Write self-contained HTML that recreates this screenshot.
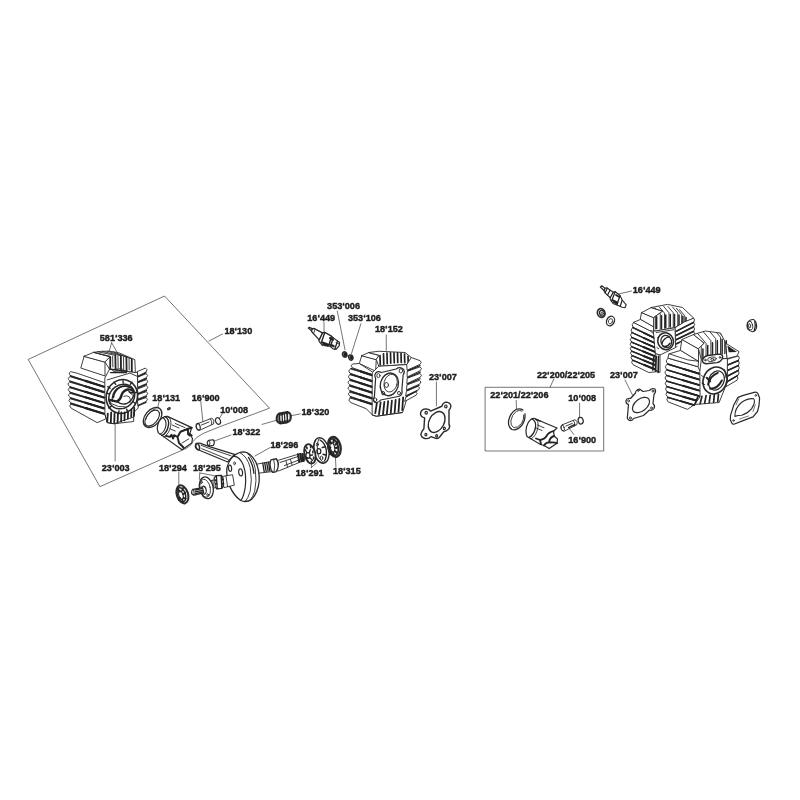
<!DOCTYPE html>
<html><head><meta charset="utf-8"><title>Parts diagram</title>
<style>
html,body{margin:0;padding:0;background:#fff;}
svg{display:block;}
text{font-family:"Liberation Sans",sans-serif;font-weight:bold;font-size:9.1px;fill:#1c1c1c;stroke:#1c1c1c;stroke-width:0.4;}
.l{stroke:#2a2a2a;stroke-width:0.9;fill:none;stroke-linecap:round;stroke-linejoin:round;}
.w{stroke:#2a2a2a;stroke-width:0.9;fill:#fff;stroke-linecap:round;stroke-linejoin:round;}
.k{stroke:#222;stroke-width:1.35;fill:none;stroke-linecap:round;stroke-linejoin:round;}
.d{fill:#222;stroke:none;}
.t{stroke:#3a3a3a;stroke-width:0.7;fill:none;stroke-linecap:round;}
g *{vector-effect:non-scaling-stroke;}
</style></head><body>
<svg width="800" height="800" viewBox="0 0 800 800">
<defs><filter id="bl" x="-5%" y="-5%" width="110%" height="110%"><feGaussianBlur stdDeviation="0.45"/></filter></defs>
<rect width="800" height="800" fill="#fff"/>
<g filter="url(#bl)">
<!-- 00_labels.svg -->
<!-- boxes and leader lines -->
<path class="t" d="M28.5,359.3 L164.5,296 L269.5,408.2 L219.5,426.8 L203,433.5 Q196,437 193,441.5 Q191,446 187,448 L100.25,486.5 Z"/>
<path class="t" d="M209,341 L222.5,334"/>
<rect class="t" x="485.5" y="387.3" width="118.2" height="63.7"/>
<text x="99.8" y="340.5">581‘336</text>
<text x="224.4" y="334.2">18‘130</text>
<text x="152.3" y="400.5">18‘131</text>
<text x="191.8" y="400.5">16‘900</text>
<text x="220.2" y="413.3">10‘008</text>
<text x="232.5" y="434.6">18‘322</text>
<text x="101.8" y="471.1">23‘003</text>
<text x="159" y="470.6">18‘294</text>
<text x="193" y="470.6">18‘295</text>
<text x="301.5" y="414.9">18‘320</text>
<text x="270.5" y="447.9">18‘296</text>
<text x="295.8" y="476.3">18‘291</text>
<text x="332.9" y="473.5">18‘315</text>
<text x="327.1" y="309.1">353‘006</text>
<text x="307.3" y="320.8">16‘449</text>
<text x="348" y="320.8">353‘106</text>
<text x="375" y="332.1">18‘152</text>
<text x="429" y="379.6">23‘007</text>
<text x="537" y="377.5">22‘200/22‘205</text>
<text x="610" y="377.8">23‘007</text>
<text x="490.3" y="397.8">22‘201/22‘206</text>
<text x="568.3" y="400.6">10‘008</text>
<text x="568.3" y="442.9">16‘900</text>
<text x="632.8" y="293.4">16‘449</text>

<!-- 10_cyl_left.svg -->
<g transform="translate(60,345) scale(0.1125)">
<!-- leader lines -->
<path class="t" d="M459,-20 L436,60 M459,-20 L505,60"/>
<path class="t" d="M490,690 L490,1030"/>
<!-- silhouette fill -->
<path class="w" d="M215,100 L300,65 L440,55 L560,75 L665,130 L670,190 L770,215 L775,545 L660,600 L655,680 L480,700 L330,690 L100,575 L75,250 L185,205 Z" style="stroke:none"/>
<!-- left fins -->
<path class="w" d="M395,335 L150,250 L95,237 Q70,245 90,270 L395,370"/>
<path class="w" d="M395,372 L90,282 Q60,295 85,318 L395,418"/>
<path class="w" d="M395,420 L85,330 Q58,345 85,368 L395,466"/>
<path class="w" d="M395,468 L85,380 Q60,395 88,418 L395,514"/>
<path class="w" d="M395,516 L88,430 Q62,445 90,466 L395,562"/>
<path class="w" d="M395,564 L90,478 Q66,492 95,514 L395,610"/>
<path class="w" d="M395,612 L95,526 Q75,540 100,562 L330,690 L400,660"/>
<path class="k" d="M92,276 L390,371 M88,324 L390,419 M88,374 L390,467 M90,424 L390,515 M92,472 L390,563 M96,520 L390,611"/>
<path class="k" style="stroke-width:2.2" d="M226,319 L390,371 M224,367 L390,419 M224,416 L390,467 M225,465 L390,515 M226,513 L390,563 M228,561 L390,611"/>
<!-- block -->
<path class="w" d="M215,100 L400,150 L400,275 L185,205 Q200,150 215,100 Z"/>
<path class="w" d="M215,100 L300,65 L445,105 L400,150 Z"/>
<!-- top fins -->
<path class="w" d="M300,65 L370,56 L440,55 L520,68 L665,130 L670,245 L440,215 L400,150 L445,105 Z"/>
<path class="l" d="M300,65 L445,102 M335,60 L490,92 M375,57 L540,95 M425,56 L590,106 M475,62 L640,125"/>
<path class="k" style="stroke-width:1.8" d="M447,108 L446,210 M492,96 L494,205 M541,100 L542,215 M590,110 L592,225 M638,130 L638,240"/>
<path class="l" d="M468,100 L470,195 M515,98 L517,200 M565,104 L566,210 M614,118 L615,222"/>
<!-- front face -->
<path class="w" d="M400,290 L440,215 L670,245 L690,240 L695,560 L655,600 L655,680 L480,700 L420,690 L400,620 Z"/>
<path class="l" d="M420,310 L620,250 L690,280"/>
<path class="k" d="M445,215 L600,235 M450,245 L590,245"/>
<ellipse class="l" cx="520" cy="225" rx="55" ry="14"/>
<!-- right fins -->
<path class="w" d="M690,235 L760,205 Q785,215 765,240 L695,275 Z"/>
<path class="w" d="M692,285 L765,255 Q790,268 768,290 L695,325 Z"/>
<path class="w" d="M692,335 L768,308 Q792,320 770,342 L695,375 Z"/>
<path class="w" d="M692,390 L768,360 Q792,375 770,395 L695,430 Z"/>
<path class="w" d="M692,440 L768,415 Q790,428 770,448 L695,480 Z"/>
<path class="w" d="M692,492 L765,468 Q788,480 768,500 L695,535 Z"/>
<path class="k" d="M695,280 L765,248 M695,330 L768,298 M695,382 L768,350 M695,435 L768,405 M695,486 L768,458 M695,540 L765,510"/>
<!-- bore ring (outer) -->
<ellipse class="w" style="stroke-width:1.6" cx="550" cy="458" rx="138" ry="152" transform="rotate(20 550 458)"/>
<path class="k" d="M425,370 L445,385 M420,430 L440,435 M432,560 L455,545 M640,330 L625,350 M680,420 L660,425 M670,520 L650,505 M600,590 L592,570 M520,605 L525,585 M480,330 L495,350 M560,318 L562,338"/>
<!-- bottom fins -->
<path class="k" style="stroke-width:1.8" d="M425,610 L420,680 M455,600 L452,690 M485,605 L482,695 M515,610 L512,690 M545,600 L543,680 M575,600 L573,670 M605,590 L603,655 M635,575 L633,640 M660,560 L658,630"/>
<path class="l" d="M400,620 L420,690 L480,700 L655,640"/>
</g>

<!-- bore detail: zoom [100,370,150,420] scale 16 -->
<g transform="translate(100,370) scale(0.0625)">
<ellipse class="w" style="stroke-width:1.5" cx="348" cy="425" rx="218" ry="185" transform="rotate(-35 348 425)"/>
<path class="l" style="stroke-width:1.2" d="M200,500 Q180,380 270,300 Q350,240 450,262 Q530,290 545,380"/>
<path class="k" style="stroke-width:2.4" d="M150,478 L275,505 Q330,470 345,400 Q365,335 440,312 Q490,305 525,335"/>
<path class="k" style="stroke-width:1.6" d="M215,440 Q225,330 320,275 Q400,240 470,275"/>
<path class="k" style="stroke-width:1.3" d="M275,505 Q330,560 420,540 Q510,500 540,400"/>
<path class="l" d="M150,478 Q150,520 200,545 Q290,600 400,590 M440,312 Q470,380 520,400 M380,420 Q430,400 470,430 Q500,470 480,520"/>
<path class="k" style="stroke-width:1.6" d="M470,350 Q500,370 530,365"/>
</g>

<!-- 20_piston_left.svg -->
<g transform="translate(140,380) scale(0.15)">
<!-- ring+piston: zoom [140,395,200,455] scale 13.333 -->
<path class="t" d="M128,142 L118,185"/>
<g transform="translate(0,100) scale(0.5)">
<ellipse class="w" style="stroke-width:1.3" cx="168" cy="300" rx="100" ry="152" transform="rotate(40 168 300)"/>
<ellipse class="w" style="stroke-width:1.1" cx="162" cy="308" rx="72" ry="125" transform="rotate(40 162 308)"/>
<path class="l" d="M75,330 Q100,230 200,185"/>
<ellipse class="l" style="stroke-width:1.2" cx="385" cy="182" rx="20" ry="11" transform="rotate(-30 385 182)"/>
<path class="w" style="stroke-width:1.2" d="M365,285 L690,435 L662,520 L700,580 L690,640 L560,730 L245,505 Q215,440 250,360 Q290,285 365,285 Z"/>
<path class="l" d="M365,285 Q425,310 410,410 Q390,520 320,560"/>
<path class="k" d="M335,290 Q395,320 378,410 Q360,510 290,540"/>
<path class="k" style="stroke-width:1.1" d="M300,300 Q358,330 345,410 Q328,500 265,522"/>
<path class="k" style="stroke-width:1.9" d="M345,545 L400,558 L420,530 L442,580 L455,535 L500,560 L540,490 L640,450 L690,437 M500,560 L520,640 L580,700 M640,450 L640,520 L662,540 M662,520 L690,540"/>
<path class="l" d="M430,400 L520,440 M470,380 L600,435 M400,450 L470,480 M560,640 L650,585"/>
</g>
<!-- pin 16'900 -->
<path class="t" d="M405,142 L420,285"/>
<path class="w" d="M388,290 L478,255 Q498,262 490,293 L398,335 Q372,330 375,308 Q378,292 388,290 Z"/>
<ellipse class="l" style="stroke-width:1.2" cx="388" cy="312" rx="13" ry="23" transform="rotate(-15 388 312)"/>
<path class="l" d="M470,259 Q482,273 478,297"/>
<path class="l" d="M410,300 L460,280"/>
<!-- clip 10'008 -->
<path class="t" d="M548,225 L530,255"/>
<ellipse class="l" style="stroke-width:1.2" cx="520" cy="273" rx="16" ry="23" transform="rotate(-20 520 273)"/>
</g>

<!-- 25_crank_right.svg -->
<g transform="translate(250,395) scale(0.15)">
<!-- leaders -->
<path class="t" d="M335,126 L265,140"/>
<path class="t" d="M80,196 L185,166"/>
<!-- needle bearing 18'320 -->
<path class="w" style="stroke-width:1.8;fill:#777" d="M195,122 L250,112 Q276,122 273,150 Q270,178 246,184 L200,190 Q175,180 177,155 Q179,130 195,122 Z"/>
<path class="k" style="stroke-width:1.8" d="M198,128 L201,186 M214,124 L217,184 M230,120 L233,182 M246,118 L248,178"/>
<path style="stroke:#fff;stroke-width:1.2;fill:none;stroke-linecap:round" d="M206,140 L207,170 M222,136 L224,168 M238,130 L240,165 M258,130 L258,160"/>
<!-- shaft -->
<path class="w" d="M40,462 L190,435 L330,392 L360,395 L365,440 L340,445 L195,505 L50,522 Z"/>
<path class="k" d="M85,455 L95,512 M98,452 L108,510 M111,450 L121,508 M124,448 L132,505"/>
<path class="w" style="stroke-width:1.3" d="M140,432 L175,425 Q192,445 188,475 Q186,500 172,512 L150,515 Q135,495 134,468 Q133,445 140,432 Z"/>
<path class="l" d="M158,428 Q170,470 160,514"/>
<path class="l" d="M200,450 L320,410 M230,470 L330,432 M240,440 L250,480 M270,430 L280,465"/>
<path class="k" style="stroke-width:2" d="M320,395 L328,445 M335,393 L343,442 M350,394 L356,440"/>
</g>
<g transform="translate(290,425) scale(0.075)">
<path class="t" d="M285,568 L285,520 M285,568 L360,500"/>
<path class="t" d="M612,556 L606,432"/>
<!-- cup disc -->
<ellipse class="w" style="stroke-width:1.4" cx="418" cy="340" rx="100" ry="172" transform="rotate(-12 418 340)"/>
<path class="l" style="stroke-width:1.2" d="M345,195 Q300,260 330,400 Q360,500 440,510"/>
<path class="l" d="M385,185 Q350,260 372,390 Q395,480 460,500"/>
<path class="k" d="M400,200 Q470,240 485,340 Q490,430 460,480"/>
<ellipse class="l" style="stroke-width:1.3" cx="385" cy="350" rx="26" ry="34"/>
<ellipse class="l" cx="420" cy="440" rx="18" ry="26"/>
<ellipse class="l" cx="365" cy="260" rx="14" ry="22"/>
<path class="k" d="M430,300 L470,290 M440,390 L475,400"/>
<!-- star disc -->
<ellipse class="w" style="stroke-width:1.8" cx="265" cy="385" rx="72" ry="132" transform="rotate(-14 265 385)"/>
<ellipse class="l" style="stroke-width:1.3" cx="240" cy="405" rx="28" ry="38"/>
<ellipse class="d" cx="225" cy="305" rx="12" ry="22" transform="rotate(-14 225 305)"/>
<ellipse class="d" cx="275" cy="295" rx="11" ry="20" transform="rotate(-14 275 295)"/>
<ellipse class="d" cx="305" cy="360" rx="11" ry="22"/>
<ellipse class="d" cx="315" cy="440" rx="11" ry="22"/>
<ellipse class="d" cx="285" cy="490" rx="11" ry="18"/>
<ellipse class="d" cx="235" cy="480" rx="10" ry="18"/>
<path class="k" d="M205,330 L225,370 M270,330 L258,372 M300,400 L268,405 M300,470 L262,435 M222,450 L235,438"/>
<!-- bearing 18'315 -->
<ellipse class="w" style="stroke-width:2.4" cx="592" cy="292" rx="82" ry="134" transform="rotate(-12 592 292)"/>
<ellipse class="l" style="stroke-width:1.8" cx="580" cy="296" rx="62" ry="112" transform="rotate(-12 580 296)"/>
<ellipse class="l" style="stroke-width:1.2" cx="565" cy="300" rx="30" ry="62" transform="rotate(-12 565 300)"/>
<path class="k" style="stroke-width:2.2" d="M530,215 L548,245 M585,195 L580,232 M630,230 L608,262 M640,300 L612,305 M625,370 L600,350 M580,405 L578,370 M535,385 L548,355 M520,300 L538,300"/>
</g>

<!-- 30_crank.svg -->
<g transform="translate(165,420) scale(0.15)">
<!-- leaders -->
<path class="t" d="M440,100 L330,140"/>
<path class="t" d="M92,347 L92,432"/>
<path class="t" d="M232,353 L229,396 M232,353 L337,373"/>
<path class="t" d="M702,183 L600,240"/>
</g>
<!-- conrod + flywheel: zoom [190,435,280,505] scale 8.889 -->
<g transform="translate(190,435) scale(0.1125)">
<!-- conrod -->
<path class="w" style="stroke-width:1.2" d="M85,72 L180,105 L395,172 L335,240 L180,175 L78,133 Q40,118 48,92 Q58,68 85,72 Z"/>
<ellipse class="l" style="stroke-width:1.5" cx="68" cy="103" rx="15" ry="30" transform="rotate(-18 68 103)"/>
<path class="l" d="M100,92 L180,122 L365,185 M105,122 L180,152 L340,218"/>
<!-- pin 18'322 -->
<path class="w" style="stroke-width:1.2" d="M168,48 L205,42 Q225,62 208,92 L172,98 Q150,85 153,68 Q156,52 168,48 Z"/>
<path class="l" d="M168,48 Q188,68 172,98"/>
<!-- flywheel -->
<path class="w" style="stroke-width:1.3" d="M385,190 Q430,150 480,150 Q540,155 585,240 Q620,320 615,410 Q605,510 550,570 Q500,605 450,582 Q390,540 350,450 Q320,370 328,295 Q345,225 385,190 Z"/>
<path class="l" style="stroke-width:1.2" d="M385,190 Q440,185 475,270 Q505,360 490,470 Q475,560 450,582"/>
<path class="l" d="M445,158 Q510,190 535,290 Q555,400 535,500 Q515,570 490,592"/>
<path class="l" d="M500,153 Q560,200 580,300 Q595,410 575,500 Q560,550 535,580"/>
<path class="k" d="M520,200 Q560,260 568,340"/>
<ellipse class="l" style="stroke-width:1.2" cx="356" cy="296" rx="14" ry="28" transform="rotate(-8 356 296)"/>
<ellipse class="l" cx="396" cy="252" rx="8" ry="13"/>
<ellipse class="l" style="stroke-width:1.2" cx="450" cy="332" rx="17" ry="32" transform="rotate(-8 450 332)"/>
</g>
<!-- left shaft group: zoom [170,455,240,525] scale 11.4286 -->
<g transform="translate(170,455) scale(0.0875)">
<!-- shaft to flywheel -->
<path class="w" d="M600,245 L715,225 L735,345 L620,372 Z"/>
<path class="l" d="M640,240 L658,362"/>
<!-- nut -->
<path class="w" style="stroke-width:1.3" d="M505,262 L530,235 L585,232 L605,262 L612,345 L590,382 L535,388 L512,355 Z"/>
<path class="k" d="M530,237 L540,386 M585,234 L592,380"/>
<path class="k" style="stroke-width:1.8" d="M512,290 L528,288 M515,330 L532,328 M592,280 L606,278 M596,330 L610,326"/>
<!-- shaft section -->
<path class="w" d="M470,292 L510,285 L518,372 L480,385 Z"/>
<path class="l" d="M490,288 L498,380"/>
<!-- washer disc -->
<ellipse class="w" style="stroke-width:1.3" cx="415" cy="375" rx="78" ry="126" transform="rotate(-12 415 375)"/>
<ellipse class="l" cx="402" cy="380" rx="58" ry="104" transform="rotate(-12 402 380)"/>
<ellipse class="l" style="stroke-width:1.2" cx="385" cy="402" rx="28" ry="46" transform="rotate(-12 385 402)"/>
<ellipse class="l" cx="360" cy="312" rx="9" ry="14"/>
<ellipse class="l" cx="430" cy="455" rx="9" ry="14"/>
<!-- stub -->
<path class="w" style="stroke-width:1.2" d="M262,392 L372,372 L385,432 L275,458 Q245,452 247,425 Q250,398 262,392 Z"/>
<path class="l" d="M262,392 Q282,420 275,458"/>
<path class="k" d="M285,400 L365,385 M288,422 L372,404 M290,442 L378,422"/>
<!-- bearing 18'294 -->
<ellipse class="w" style="stroke-width:2" cx="142" cy="450" rx="64" ry="106" transform="rotate(-18 142 450)"/>
<ellipse class="l" style="stroke-width:1.5" cx="130" cy="455" rx="46" ry="84" transform="rotate(-18 130 455)"/>
<ellipse class="l" style="stroke-width:1.2" cx="124" cy="458" rx="24" ry="50" transform="rotate(-18 124 458)"/>
<path class="k" style="stroke-width:1.8" d="M95,395 L112,420 M150,375 L140,405 M175,430 L155,445 M178,500 L155,490 M150,535 L140,508 M100,510 L115,492"/>
</g>

<!-- 50_cyl_mid.svg -->
<g transform="translate(335,335) scale(0.125)">
<!-- leaders -->
<path class="t" d="M410,0 L410,122"/>
<path class="t" d="M18,-192 L80,118 M207,-90 L132,148"/>
<!-- silhouette -->
<path style="fill:#fff;stroke:none" d="M215,165 L270,140 L350,130 L560,140 L610,180 L690,215 L690,350 L650,480 L560,560 L540,620 L330,650 L250,590 L105,540 L105,280 L135,235 L195,225 Z"/>
<!-- left fins -->
<path class="w" d="M305,300 L195,228 L140,232 Q118,245 140,262 L300,320"/>
<path class="w" d="M300,322 L125,272 Q98,285 122,306 L300,368"/>
<path class="w" d="M300,370 L120,318 Q95,332 120,352 L300,414"/>
<path class="w" d="M300,416 L118,364 Q92,378 118,398 L300,460"/>
<path class="w" d="M300,462 L116,410 Q92,425 118,444 L300,506"/>
<path class="w" d="M300,508 L116,458 Q94,472 120,490 L300,552"/>
<path class="w" d="M300,554 L120,504 Q100,520 125,540 L250,590 L300,640"/>
<path class="k" d="M128,267 L296,321 M122,312 L296,369 M120,358 L296,415 M118,404 L296,461 M120,450 L296,507 M122,497 L296,553"/>
<path class="k" style="stroke-width:2.2" d="M204,291 L296,321 M200,338 L296,369 M199,384 L296,415 M198,430 L296,461 M199,476 L296,507 M200,522 L296,553"/>
<!-- block -->
<path class="w" d="M215,165 L330,195 L325,290 L195,228 Q205,190 215,165 Z"/>
<path class="w" d="M215,165 L270,140 L352,165 L330,195 Z"/>
<!-- top fins -->
<path class="w" d="M270,140 L350,130 L560,140 L610,180 L600,235 L350,250 L330,195 L352,165 Z"/>
<path class="k" style="stroke-width:1.7" d="M360,165 L362,240 M388,150 L390,235 M416,145 L418,230 M444,142 L446,225 M472,142 L474,222 M500,143 L502,220 M528,146 L530,220 M556,152 L558,222 M584,170 L586,230"/>
<!-- front face -->
<path class="w" d="M300,300 L350,250 L600,235 L585,470 L560,560 L540,620 L330,650 L300,640 Z"/>
<!-- right fins -->
<path class="w" d="M575,235 L610,180 L680,205 Q700,218 680,235 L580,280 Z"/>
<path class="w" d="M580,290 L680,255 Q702,268 682,285 L580,335 Z"/>
<path class="w" d="M580,345 L680,308 Q702,322 682,338 L578,388 Z"/>
<path class="w" d="M578,398 L676,362 Q698,375 678,392 L575,438 Z"/>
<path class="w" d="M575,448 L665,410 Q686,422 668,438 L568,485 Z"/>
<path class="w" d="M570,495 L645,455 Q666,466 648,482 L560,530 Z"/>
<path class="k" d="M582,285 L680,245 M582,340 L682,297 M580,393 L680,350 M576,443 L672,402 M570,490 L655,448"/>
<!-- mount plate -->
<path class="w" style="stroke-width:1.2" d="M330,300 Q345,285 370,300 L490,272 Q520,250 550,275 Q560,300 545,320 L535,440 Q545,475 515,490 L365,520 Q350,545 320,540 Q295,520 315,495 L325,345 Q310,320 330,300 Z"/>
<ellipse class="l" cx="347" cy="325" rx="13" ry="16"/>
<ellipse class="l" cx="527" cy="287" rx="14" ry="17"/>
<ellipse class="l" cx="322" cy="518" rx="12" ry="15"/>
<ellipse class="l" cx="512" cy="465" rx="12" ry="14"/>
<ellipse class="l" style="stroke-width:1.3" cx="435" cy="395" rx="72" ry="92" transform="rotate(15 435 395)"/>
<ellipse class="l" cx="445" cy="385" rx="52" ry="72" transform="rotate(15 445 385)"/>
<ellipse class="l" cx="412" cy="400" rx="16" ry="20"/>
<ellipse class="l" cx="385" cy="465" rx="12" ry="14"/>
<!-- bottom fins -->
<path class="k" style="stroke-width:1.8" d="M335,545 L322,625 M365,540 L352,635 M395,535 L384,635 M425,530 L415,630 M455,525 L446,625 M485,520 L477,620 M515,512 L508,612 M545,500 L538,600"/>
<path class="l" d="M300,640 L330,650 L540,620"/>
</g>
<!-- spark plug mid: zoom [300,320,360,380] scale 13.333 -->
<g transform="translate(300,320) scale(0.075)">
<path class="t" d="M320,30 L320,160"/>
<path class="w" style="stroke-width:1.2" d="M110,108 L128,98 L165,118 L185,112 L300,172 L330,165 L420,215 L440,235 L528,300 L522,345 L480,392 L440,385 L400,350 L300,340 L255,285 L250,258 L160,160 L150,140 Z"/>
<path class="k" d="M165,118 L152,145 M300,172 L258,262 M330,167 L285,300 M420,217 L385,340 M440,237 L410,352 M500,282 L465,385"/>
<path class="k" style="stroke-width:2" d="M300,300 L380,330 M310,320 L370,342 M400,240 L440,262 M410,330 L450,350"/>
<path class="l" d="M200,125 L185,170 M480,300 L520,320"/>
<!-- washers -->
<ellipse class="w" style="stroke-width:1.6" cx="596" cy="460" rx="28" ry="36" transform="rotate(-20 596 460)"/>
<ellipse class="k" style="stroke-width:1.6" cx="600" cy="462" rx="11" ry="15" transform="rotate(-20 600 462)"/>
<ellipse class="w" style="stroke-width:1.6" cx="678" cy="500" rx="27" ry="35" transform="rotate(-20 678 500)"/>
<ellipse class="k" style="stroke-width:1.6" cx="684" cy="500" rx="10" ry="15" transform="rotate(-20 684 500)"/>
</g>
<!-- gasket 23'007 mid: zoom [410,380,470,440] scale 13.333 -->
<g transform="translate(410,380) scale(0.075)">
<path class="t" d="M352,25 L352,345"/>
<path class="w" style="stroke-width:1.4" d="M140,445 Q150,385 215,385 Q260,390 275,415 L425,350 Q440,295 490,295 Q545,310 545,350 Q540,385 520,400 L520,590 Q540,620 515,655 Q490,685 450,690 L395,760 Q370,790 335,775 L280,755 Q250,790 200,780 Q150,765 145,725 Q150,690 185,650 L195,505 Q140,490 140,445 Z"/>
<ellipse class="l" style="stroke-width:1.4" cx="355" cy="560" rx="100" ry="148" transform="rotate(28 355 560)"/>
<ellipse class="l" style="stroke-width:1.2" cx="216" cy="436" rx="16" ry="18"/>
<ellipse class="l" style="stroke-width:1.2" cx="478" cy="352" rx="16" ry="19"/>
<ellipse class="l" style="stroke-width:1.2" cx="458" cy="645" rx="13" ry="17"/>
<ellipse class="l" style="stroke-width:1.2" cx="212" cy="728" rx="13" ry="18"/>
<ellipse class="l" style="stroke-width:1.2" cx="355" cy="745" rx="12" ry="16"/>
</g>

<!-- 60_piston_right.svg -->
<g transform="translate(470,350) scale(0.225)">
<path class="t" d="M372,130 L356,165"/>
<path class="t" d="M487,236 L487,298"/>
<path class="t" d="M462,376 L444,352"/>
<!-- pin -->
<path class="w" d="M411,332 L466,310 Q480,315 475,332 L419,361 Q403,358 404,346 Q405,335 411,332 Z"/>
<ellipse class="l" cx="412" cy="347" rx="7" ry="14" transform="rotate(-15 412 347)"/>
<path class="l" d="M459,313 Q469,322 465,338 M426,338 L455,326"/>
<path class="k" d="M438,345 L466,331"/>
<!-- clip -->
<ellipse class="l" style="stroke-width:1.2" cx="492" cy="314" rx="11" ry="15" transform="rotate(-15 492 314)"/>
</g>
<g transform="translate(480,380) scale(0.1)">
<path class="t" d="M362,205 L365,290"/>
<!-- ring -->
<path class="l" style="stroke-width:1.3" d="M430,300 Q400,280 360,295 Q300,330 285,410 Q280,470 320,495 Q370,510 420,450 Q455,400 450,340"/>
<path class="l" d="M420,310 Q395,298 365,312 Q318,345 308,410 Q305,455 335,475 Q375,485 415,435 Q440,395 438,350"/>
<!-- piston -->
<path class="w" style="stroke-width:1.2" d="M545,385 L770,480 L735,512 L742,560 L775,590 L770,632 L692,686 L640,655 L600,642 L470,565 Q445,500 480,430 Q510,380 545,385 Z"/>
<path class="l" d="M545,385 Q590,400 580,470 Q565,560 510,590"/>
<path class="k" style="stroke-width:1.3" d="M520,390 Q565,410 555,475 Q540,550 490,575"/>
<path class="k" d="M560,395 L600,410"/>
<path class="k" style="stroke-width:1.8" d="M735,512 Q690,520 665,560 Q650,590 600,600 L560,585 M742,560 Q700,570 690,620 M600,600 L610,640 M640,655 Q660,620 700,625 Q740,620 770,632"/>
<path class="l" d="M560,480 L620,505 M575,450 L640,478"/>
</g>

<!-- 70_right_small.svg -->
<!-- spark plug, nut, washer (top right) -->
<g transform="translate(590,270) scale(0.1)">
<path class="t" d="M415,210 L285,240"/>
<path class="w" style="stroke-width:1.1" d="M103,170 L118,158 L150,182 L168,178 L232,222 L250,215 L300,255 L322,300 L362,348 L350,378 L322,372 L275,352 L230,335 L205,300 L200,275 L150,228 L140,205 Z"/>
<path class="k" style="stroke-width:1.2" d="M150,183 L140,206 M172,182 L152,228 M200,202 L176,250 M232,224 L202,278 M252,218 L215,312 M300,257 L268,348 M322,302 L302,362"/>
<path class="k" style="stroke-width:1.8" d="M225,300 L275,325 M232,318 L270,338 M260,250 L290,268"/>
<ellipse class="w" style="stroke-width:1.6" cx="112" cy="430" rx="38" ry="45" transform="rotate(-20 112 430)"/>
<ellipse class="l" style="stroke-width:1.3" cx="120" cy="432" rx="24" ry="30" transform="rotate(-20 120 432)"/>
<ellipse class="l" cx="122" cy="434" rx="11" ry="14"/>
<ellipse class="w" style="stroke-width:1.3" cx="205" cy="510" rx="38" ry="50" transform="rotate(25 205 510)"/>
<ellipse class="l" cx="205" cy="512" rx="20" ry="27" transform="rotate(25 205 512)"/>
</g>
<!-- gasket 23'007 right-left -->
<g transform="translate(610,370) scale(0.1)">
<path class="t" d="M150,100 L235,270"/>
<path class="w" style="stroke-width:1.2" d="M160,305 Q170,275 205,285 L255,230 Q260,195 295,190 L330,215 L395,205 Q420,175 450,190 Q465,215 440,245 L430,335 Q455,360 440,385 Q420,410 395,400 L335,455 L235,485 Q225,510 195,505 Q165,490 175,460 L185,345 Q155,335 160,305 Z"/>
<ellipse class="l" style="stroke-width:1.2" cx="310" cy="350" rx="98" ry="60" transform="rotate(-38 310 350)"/>
<ellipse class="l" cx="186" cy="308" rx="9" ry="11"/>
<ellipse class="l" cx="283" cy="205" rx="8" ry="9"/>
<ellipse class="l" cx="430" cy="210" rx="9" ry="12"/>
<ellipse class="l" cx="415" cy="380" rx="9" ry="11"/>
<ellipse class="l" cx="203" cy="480" rx="10" ry="12"/>
</g>
<!-- gasket right: zoom [720,380,780,440] scale 13.333 -->
<g transform="translate(720,380) scale(0.075)">
<path class="w" style="stroke-width:1.2" d="M140,475 L185,330 L240,232 L310,205 L455,165 Q490,155 505,180 L528,240 L520,340 L500,420 L440,492 L300,545 L185,590 Q165,592 155,570 L138,530 Z"/>
<path class="l" style="stroke-width:1.1" d="M198,485 Q195,380 285,300 Q370,240 450,250 Q480,290 420,385 Q360,450 290,470 Q240,470 198,485 Z"/>
<ellipse class="l" cx="478" cy="205" rx="10" ry="12"/>
<ellipse class="l" cx="180" cy="540" rx="10" ry="12"/>
<path class="t" d="M250,250 L215,330 M470,330 L440,420 M260,520 L380,480"/>
</g>
<g transform="translate(660,320) scale(0.1375)">
<g transform="translate(664,42) scale(0.8) translate(-668,-28)">
<!-- bearing -->
<path class="w" style="stroke-width:1.1" d="M640,-8 Q660,-32 690,-28 Q718,-10 716,40 Q710,78 680,82 Q650,80 634,55 Q622,20 640,-8 Z"/>
<ellipse class="l" style="stroke-width:0.9" cx="656" cy="25" rx="24" ry="42" transform="rotate(-12 656 25)"/>
<ellipse class="l" cx="652" cy="28" rx="10" ry="20" transform="rotate(-12 652 28)"/>
<path class="k" style="stroke-width:1.3" d="M700,-10 Q712,30 695,72"/>
</g>
</g>

<!-- 80_cyl_rt.svg -->
<!-- right-top cylinder: zoom [620,295,720,395] scale 8 -->
<g transform="translate(620,295) scale(0.125)">
<path style="fill:#fff;stroke:none" d="M175,140 L250,100 L380,75 L500,100 L590,185 L590,330 L440,420 L320,480 L320,620 L230,620 L90,560 L80,300 L110,215 Z"/>
<!-- left fins -->
<path class="w" d="M290,330 L240,285 L110,218 Q88,235 105,258 L285,345"/>
<path class="w" d="M285,350 L100,262 Q78,280 98,300 L285,385"/>
<path class="w" d="M285,388 L95,302 Q74,318 94,338 L285,420"/>
<path class="w" d="M285,423 L92,340 Q72,356 92,375 L285,455"/>
<path class="w" d="M285,458 L90,378 Q72,393 92,412 L285,490"/>
<path class="w" d="M285,493 L90,414 Q72,430 93,448 L285,525"/>
<path class="w" d="M285,528 L92,450 Q74,466 96,483 L285,560"/>
<path class="w" d="M285,563 L95,486 Q78,502 100,520 L285,595"/>
<path class="w" d="M285,598 L100,523 Q84,540 105,558 L230,620 L310,612"/>
<path class="k" d="M102,260 L282,347 M96,300 L282,386 M93,339 L282,421 M92,377 L282,456 M92,413 L282,491 M93,449 L282,526 M96,485 L282,561 M100,521 L282,596"/>
<path class="k" style="stroke-width:1.9" d="M192,304 L282,347 M189,343 L282,386 M188,380 L282,421 M187,416 L282,456 M187,452 L282,491 M188,488 L282,526 M189,523 L282,561 M191,558 L282,596"/>
<!-- block -->
<path class="w" d="M110,218 L165,195 L270,255 L268,290 L240,285 Z"/>
<path class="w" d="M175,140 L270,180 L270,255 L165,195 Z"/>
<path class="w" d="M175,140 L250,100 L340,130 L270,180 Z"/>
<!-- top fins -->
<clipPath id="crt"><path d="M250,100 L380,75 L500,100 L590,185 L440,260 L270,290 L270,180 L340,130 Z"/></clipPath>
<path class="w" d="M250,100 L380,75 L500,100 L590,185 L440,260 L270,290 L270,180 L340,130 Z"/>
<path class="l" clip-path="url(#crt)" d="M241,110 L283,159 L283,272 M280,103 L322,152 L322,271 M314,96 L356,145 L356,266 M350,92 L392,142 L392,260 M384,92 L426,142 L426,254 M420,96 L462,145 L462,246 M451,106 L493,156 L493,232 M476,117 L518,166 L518,218 "/>
<path class="k" style="stroke-width:1.5" d="M293,173 L293,268 M332,166 L332,267 M366,159 L366,262 M402,156 L402,256 M436,156 L436,250 M472,159 L472,242 M503,170 L503,228 M528,180 L528,214 "/>
<!-- right fins -->
<path class="w" d="M440,262 L515,215 L590,185 Q602,200 590,215 L445,290 Z"/>
<path class="w" d="M445,295 L590,222 Q604,236 590,250 L445,322 Z"/>
<path class="w" d="M445,328 L590,258 Q604,272 590,286 L445,356 Z"/>
<path class="w" d="M445,362 L590,294 Q604,308 590,322 L445,390 Z"/>
<path class="w" d="M445,395 L585,330 Q598,343 585,356 L440,420 Z"/>
<path class="k" d="M448,292 L590,218 M448,325 L590,254 M448,359 L590,290 M448,393 L588,326"/>
<!-- front face -->
<path class="w" d="M270,290 L440,262 L445,420 L320,480 L285,470 Z"/>
<ellipse class="w" style="stroke-width:1.6" cx="365" cy="370" rx="62" ry="68" transform="rotate(-20 365 370)"/>
<ellipse class="l" style="stroke-width:1.3" cx="370" cy="372" rx="42" ry="50" transform="rotate(-20 370 372)"/>
<path class="k" d="M335,390 Q350,340 395,335 M345,410 Q380,420 400,385"/>
<path class="l" d="M290,300 L430,278 M300,340 L312,330 M295,420 L310,430"/>
<!-- bottom fins -->
<path class="w" d="M285,470 L320,480 L320,620 L285,600 Z"/>
<path class="k" style="stroke-width:1.6" d="M270,500 L262,600 M290,490 L285,610 M308,490 L305,620"/>
</g>

<!-- 85_cyl_rb.svg -->
<!-- right-bottom cylinder: zoom [660,320,770,430] scale 7.2727 -->
<g transform="translate(660,320) scale(0.1375)">
<path style="fill:#fff;stroke:none" d="M160,150 L245,105 L330,80 L440,95 L480,170 L575,230 L575,420 L500,510 L430,600 L250,615 L200,650 L50,590 L30,320 L60,275 Z"/>
<!-- left fins -->
<path class="w" d="M290,370 L275,340 L60,278 Q35,295 55,318 L290,390"/>
<path class="w" d="M290,393 L52,322 Q28,338 50,360 L290,432"/>
<path class="w" d="M290,435 L48,364 Q26,380 48,402 L290,472"/>
<path class="w" d="M290,475 L46,405 Q26,420 48,442 L290,512"/>
<path class="w" d="M290,515 L46,446 Q28,462 50,482 L290,552"/>
<path class="w" d="M290,555 L48,486 Q30,502 52,522 L285,590"/>
<path class="w" d="M285,593 L50,526 Q34,542 56,560 L250,618"/>
<path class="w" d="M250,620 L56,564 Q42,580 60,596 L200,650 L250,615"/>
<path class="k" d="M55,320 L286,391 M50,362 L286,433 M48,403 L286,473 M48,444 L286,513 M50,484 L286,553 M52,524 L282,591 M56,562 L248,619"/>
<path class="k" style="stroke-width:1.9" d="M170,356 L286,391 M168,398 L286,433 M167,438 L286,473 M167,478 L286,513 M168,518 L286,553 M167,558 L282,591 M152,590 L248,619"/>
<!-- block -->
<path class="w" d="M67,246 L150,221 L280,300 L278,340 L60,278 Z"/>
<path class="w" d="M162,141 L280,208 L280,300 L150,221 Z"/>
<path class="w" d="M162,141 L245,105 L320,170 L280,208 Z"/>
<path class="l" d="M67,246 L200,290 L280,300"/>
<!-- top fins -->
<clipPath id="crb"><path d="M245,105 L330,80 L440,95 L480,170 L490,280 L300,290 L280,208 L320,170 Z"/></clipPath>
<path class="w" d="M245,105 L330,80 L440,95 L480,170 L490,280 L300,290 L280,208 L320,170 Z"/>
<path class="l" clip-path="url(#crb)" d="M238,123 L300,195 L300,285 M273,98 L335,170 L335,280 M308,78 L370,150 L370,270 M343,63 L405,135 L405,258 M378,53 L440,125 L440,250 M408,63 L470,135 L470,245 "/>
<path class="k" style="stroke-width:1.5" d="M312,210 L312,282 M347,185 L347,277 M382,165 L382,267 M417,150 L417,255 M452,140 L452,247 M482,150 L482,242 "/>
<!-- right fins -->
<path class="w" d="M480,170 L575,230 L560,262 L490,280 Z"/>
<path class="d" d="M490,185 L560,232 L500,235 Z"/>
<path class="w" d="M490,285 L570,262 Q584,276 570,292 L490,325 Z"/>
<path class="w" d="M490,330 L570,298 Q584,312 570,328 L490,365 Z"/>
<path class="w" d="M490,370 L570,334 Q584,348 570,364 L490,405 Z"/>
<path class="w" d="M490,410 L568,370 Q582,384 568,400 L490,445 Z"/>
<path class="w" d="M488,450 L560,408 Q574,422 560,438 L480,485 Z"/>
<path class="k" d="M492,328 L570,295 M492,368 L570,331 M492,408 L570,367 M490,448 L564,405"/>
<!-- front face -->
<path class="w" d="M290,370 L300,290 L490,280 L490,450 L430,600 L250,615 L290,560 Z"/>
<!-- top port flange -->
<path class="w" style="stroke-width:1.4" d="M310,290 Q320,262 350,258 L430,248 Q460,250 455,275 Q445,305 415,310 L335,318 Q305,315 310,290 Z"/>
<ellipse class="l" cx="378" cy="285" rx="32" ry="16" transform="rotate(-8 378 285)"/>
<ellipse class="l" cx="380" cy="286" rx="12" ry="7"/>
<ellipse class="l" cx="330" cy="292" rx="6" ry="6"/>
<ellipse class="l" cx="436" cy="272" rx="6" ry="6"/>
<!-- bore -->
<ellipse class="w" style="stroke-width:1.6" cx="400" cy="440" rx="85" ry="100" transform="rotate(25 400 440)"/>
<ellipse class="l" style="stroke-width:1.3" cx="410" cy="440" rx="55" ry="72" transform="rotate(25 410 440)"/>
<path class="k" style="stroke-width:2" d="M350,470 Q360,410 420,385 M365,500 Q420,500 450,440 M340,420 L365,445"/>
<path class="l" d="M300,400 L320,420 M305,460 L325,470 M470,360 L480,420"/>
<!-- bottom fins -->
<path class="k" style="stroke-width:1.7" d="M275,560 L255,610 M305,555 L292,608 M335,550 L325,605 M365,548 L358,600 M395,545 L390,598 M425,540 L420,592"/>
</g>


</g>
</svg>
</body></html>
